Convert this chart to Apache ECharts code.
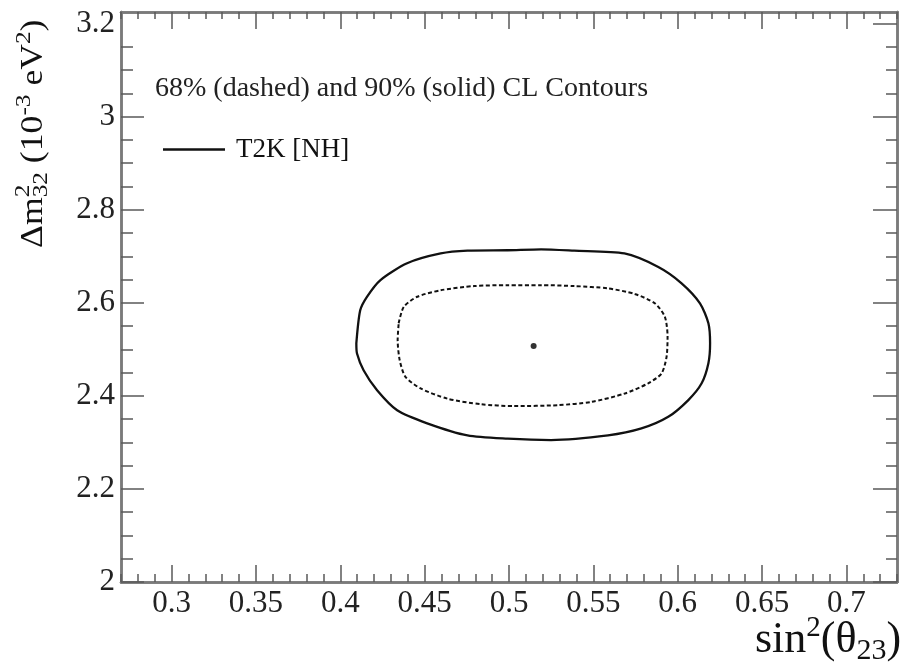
<!DOCTYPE html>
<html>
<head>
<meta charset="utf-8">
<script src="https://cdn.jsdelivr.net/npm/echarts@6/dist/echarts.min.js"></script>
<style>html,body{margin:0;padding:0;background:#fff;}#c{width:909px;height:672px;}</style>
</head>
<body>
<div id="c"></div>
<script>
// ---- data ----
const xRange = [0.27, 0.73];
const yRange = [2.0, 3.225];
const xMajorTicks = [0.3, 0.35, 0.4, 0.45, 0.5, 0.55, 0.6, 0.65, 0.7];
const yMajorTicks = [2.0, 2.2, 2.4, 2.6, 2.8, 3.0, 3.2];
const xMinorStep = 0.01;
const yMinorStep = 0.05;

// 90% CL contour (solid)
const cl90 = [
  [0.4095, 2.513], [0.4118, 2.584], [0.4158, 2.613], [0.4238, 2.649], [0.4396, 2.685],
  [0.4595, 2.706], [0.4754, 2.712], [0.4992, 2.713], [0.5190, 2.715], [0.5386, 2.712],
  [0.5684, 2.706], [0.5885, 2.677], [0.6023, 2.642], [0.6132, 2.599], [0.6182, 2.556],
  [0.6192, 2.513], [0.6182, 2.470], [0.6142, 2.427], [0.6063, 2.391], [0.5944, 2.355],
  [0.5785, 2.330], [0.5587, 2.315], [0.5249, 2.305], [0.4992, 2.308], [0.4754, 2.315],
  [0.4515, 2.341], [0.4337, 2.369], [0.4218, 2.412], [0.4138, 2.455], [0.4099, 2.491],
  [0.4095, 2.513]
];
// 68% CL contour (dashed)
const cl68 = [
  [0.4346, 2.556], [0.4376, 2.591], [0.4456, 2.613], [0.4595, 2.627], [0.4793, 2.636],
  [0.4992, 2.638], [0.5190, 2.638], [0.5388, 2.636], [0.5587, 2.631], [0.5745, 2.619],
  [0.5864, 2.599], [0.5924, 2.570], [0.5940, 2.527], [0.5934, 2.484], [0.5904, 2.448],
  [0.5825, 2.427], [0.5686, 2.405], [0.5488, 2.387], [0.5289, 2.380], [0.5031, 2.378],
  [0.4833, 2.382], [0.4635, 2.394], [0.4476, 2.416], [0.4386, 2.441], [0.4352, 2.477],
  [0.4340, 2.520], [0.4346, 2.556]
];
const bestFit = [[0.5146, 2.507]];

const subtitle = '68% (dashed) and 90% (solid) CL Contours';
const legendName = 'T2K [NH]';

// ---- helpers ----
function minorTicks(range, step, majors) {
  const out = [];
  const n0 = Math.ceil(range[0] / step - 1e-9), n1 = Math.floor(range[1] / step + 1e-9);
  for (let i = n0; i <= n1; i++) {
    const v = +(i * step).toFixed(4);
    if (!majors.some(m => Math.abs(m - v) < 1e-6)) out.push(v);
  }
  return out;
}
const xMinor = minorTicks(xRange, xMinorStep, xMajorTicks);
const yMinor = minorTicks(yRange, yMinorStep, yMajorTicks);
const fmt = v => String(Math.round(v * 1000) / 1000);

const SERIF = '"Liberation Serif", "Times New Roman", serif';
const frameLine = { show: true, lineStyle: { color: '#7a7a7a', width: 2.5 } };
const tickStyle = { color: '#5a5a5a', width: 1.5 };

function xAx(pos, ticks, len, labels) {
  return {
    type: 'value', position: pos, min: xRange[0], max: xRange[1],
    axisLine: frameLine, splitLine: { show: false },
    axisTick: { show: true, inside: true, length: len, customValues: ticks, lineStyle: tickStyle },
    axisLabel: labels ? { show: true, customValues: xMajorTicks, formatter: fmt, fontSize: 31, fontFamily: SERIF, color: '#222', margin: 6 } : { show: false }
  };
}
function yAx(pos, ticks, len, labels) {
  return {
    type: 'value', position: pos, min: yRange[0], max: yRange[1],
    axisLine: frameLine, splitLine: { show: false },
    axisTick: { show: true, inside: true, length: len, customValues: ticks, lineStyle: tickStyle },
    axisLabel: labels ? { show: true, customValues: yMajorTicks, formatter: fmt, fontSize: 31, fontFamily: SERIF, color: '#222', margin: 6 } : { show: false }
  };
}

const chart = echarts.init(document.getElementById('c'), null, { renderer: 'canvas' });
chart.setOption({
  backgroundColor: '#fff',
  animation: false,
  grid: { left: 121, top: 12, width: 776, height: 570, containLabel: false },
  xAxis: [
    xAx('bottom', xMajorTicks, 17, true),
    xAx('bottom', xMinor, 8, false),
    xAx('top', xMajorTicks, 17, false),
    xAx('top', xMinor, 7, false)
  ],
  yAxis: [
    yAx('left', yMajorTicks.filter(v => v < 3.1), 23, true),
    yAx('left', yMinor, 12, false),
    yAx('right', yMajorTicks, 24, false),
    yAx('right', yMinor, 11, false)
  ],
  legend: {
    show: true, left: 163, top: 136, padding: 0, itemWidth: 62, itemHeight: 2.5, itemGap: 0,
    data: [{ name: legendName, icon: 'rect', itemStyle: { color: '#111' } }],
    textStyle: { fontSize: 27, fontFamily: SERIF, color: '#111', padding: [12, 0, 0, 6] }
  },
  series: [
    {
      name: legendName, type: 'line', data: cl90, xAxisIndex: 0, yAxisIndex: 0,
      symbol: 'none', smooth: 0.25, lineStyle: { color: '#111', width: 2.3 }, itemStyle: { color: '#111' }
    },
    {
      name: '68% CL', type: 'line', data: cl68, xAxisIndex: 0, yAxisIndex: 0,
      symbol: 'none', smooth: 0.25, lineStyle: { color: '#111', width: 2, type: [4, 2.5] }, itemStyle: { color: '#111' }
    },
    {
      name: 'best fit', type: 'scatter', data: bestFit, xAxisIndex: 0, yAxisIndex: 0,
      symbol: 'circle', symbolSize: 6, itemStyle: { color: '#000' }
    }
  ],
  graphic: [
    {
      type: 'text', left: 155, top: 75,
      style: { text: subtitle, fontSize: 28, fontFamily: SERIF, fill: '#222' }
    },
    {
      type: 'text', x: 34, y: 248, rotation: Math.PI / 2, scaleX: 1.15,
      style: {
        text: '{t|Δm}{s2|2}{sb|32}{t| (10}{sp|-3}{t| eV}{sp|2}{t|)}',
        textAlign: 'left', textVerticalAlign: 'middle', fill: '#111',
        rich: {
          t: { fontSize: 31, fontFamily: SERIF, fill: '#111' },
          s2: { fontSize: 22, fontFamily: SERIF, fill: '#111', width: 0, padding: [0, 0, 22, 0] },
          sb: { fontSize: 22, fontFamily: SERIF, fill: '#111', padding: [14, 0, 0, 0] },
          sp: { fontSize: 22, fontFamily: SERIF, fill: '#111', padding: [0, 0, 20, 0] }
        }
      }
    },
    {
      type: 'text', x: 755, y: 640,
      style: {
        text: '{t|sin}{sp|2}{t|(θ}{sb|23}{t|)}',
        textAlign: 'left', textVerticalAlign: 'middle', fill: '#111',
        rich: {
          t: { fontSize: 44, fontFamily: SERIF, fill: '#111' },
          sp: { fontSize: 29, fontFamily: SERIF, fill: '#111', padding: [0, 0, 24, 0] },
          sb: { fontSize: 30, fontFamily: SERIF, fill: '#111', padding: [22, 0, 0, 0] }
        }
      }
    }
  ]
});
</script>
</body>
</html>
